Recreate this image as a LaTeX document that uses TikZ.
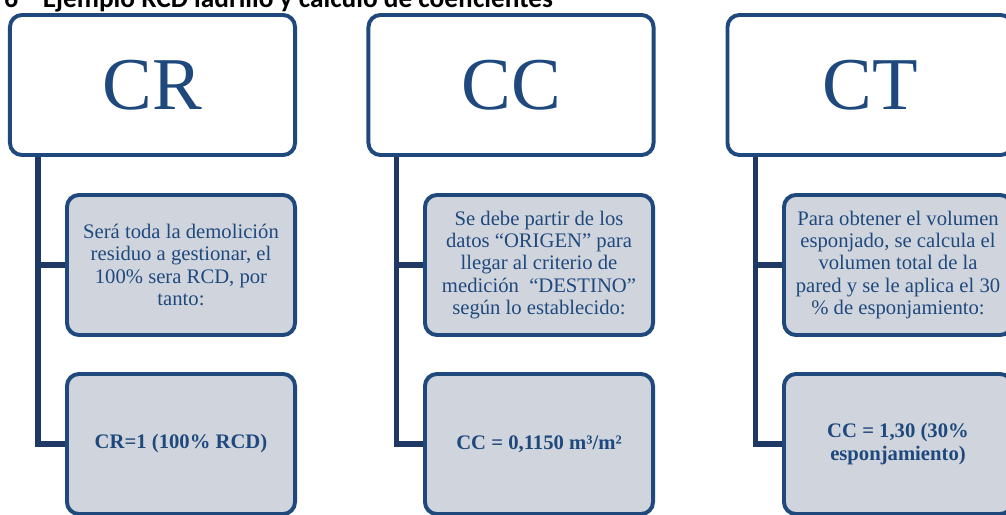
\documentclass[tikz,border=0pt]{standalone}
\usepackage{fontspec}
\setmainfont{Liberation Serif}
\newfontfamily\titlefont{Carlito}
\usetikzlibrary{positioning,calc}
\definecolor{navy}{RGB}{31,73,125}
\definecolor{trunk}{RGB}{31,56,100}
\definecolor{paleblue}{RGB}{208,213,221}
\tikzset{%
  head/.style = {
    draw = navy,
    line width = 2.8pt,
    rounded corners = 0.3cm,
    fill = white,
    text = navy,
    minimum width = 7.125cm,
    minimum height = 3.5cm,
    font = \fontsize{53}{56}\selectfont,
  },
  info/.style = {
    draw = navy,
    line width = 2.8pt,
    rounded corners = 0.3cm,
    fill = paleblue,
    text = navy,
    align = center,
    minimum width = 5.7cm,
    minimum height = 3.5cm,
    font = \fontsize{14.7}{15.8}\selectfont,
  },
  value/.style = {
    info,
    font = \fontsize{14.7}{15.8}\selectfont\bfseries,
  },
  link/.style = {
    draw = trunk,
    line width = 3.6pt,
  },
}

\begin{document}
\begin{tikzpicture}[x=0.025cm, y=-0.025cm]
  \useasboundingbox (0,0) rectangle (1006,514);
  \node[anchor=base west, font=\titlefont\bfseries\fontsize{19.4}{22}\selectfont, inner sep=0pt] (title)
    at (4,7) {6\hspace{0.62cm}Ejemplo RCD ladrillo y cálculo de coeficientes};
  % CR
  \node[head] (crHead) at (152.5,85) {CR};
  \node[info] (crInfo) at (181,265) {Será toda la demolición\\ residuo a gestionar, el\\ 100\% sera RCD, por\\ tanto:};
  \node[value] (crValue) at (181,444) {CR=1 (100\% RCD)};
  % CC
  \node[head] (ccHead) at (511,85) {CC};
  \node[info] (ccInfo) at (539,265) {Se debe partir de los\\ datos “ORIGEN” para\\ llegar al criterio de\\ medición~ “DESTINO”\\ según lo establecido:};
  \node[value] (ccValue) at (539,444) {CC = 0,1150 m³/m²};
  % CT
  \node[head] (ctHead) at (870,85) {CT};
  \node[info] (ctInfo) at (898,265) {Para obtener el volumen\\ esponjado, se calcula el\\ volumen total de la\\ pared y se le aplica el 30\\ \% de esponjamiento:};
  \node[value] (ctValue) at (898,444) {CC = 1,30 (30\%\\ esponjamiento)};
  % trunks
  \coordinate (crTrunk) at ($(crHead.south west)+(30,0)$);
  \coordinate (ccTrunk) at ($(ccHead.south west)+(30,0)$);
  \coordinate (ctTrunk) at ($(ctHead.south west)+(30,0)$);
  \draw[link] (crTrunk) |- (crInfo.west);
  \draw[link] (crTrunk) |- (crValue.west);
  \draw[link] (ccTrunk) |- (ccInfo.west);
  \draw[link] (ccTrunk) |- (ccValue.west);
  \draw[link] (ctTrunk) |- (ctInfo.west);
  \draw[link] (ctTrunk) |- (ctValue.west);
\end{tikzpicture}
\end{document}
